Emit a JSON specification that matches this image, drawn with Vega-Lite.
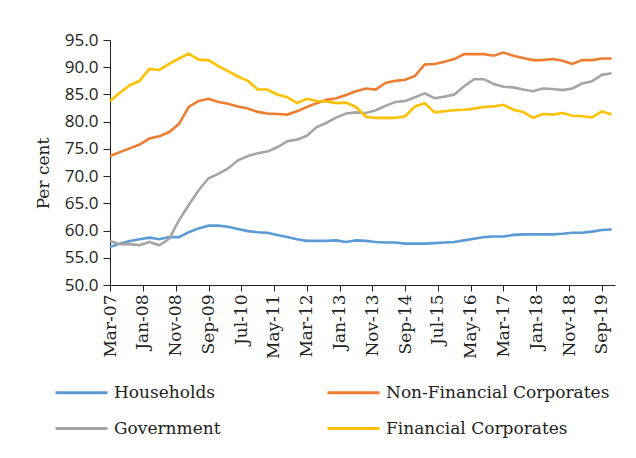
{
  "$schema": "https://vega.github.io/schema/vega-lite/v6.json",
  "width": 505,
  "height": 245,
  "autosize": {"type": "none"},
  "padding": {"left": 110, "top": 40, "right": 21, "bottom": 173},
  "background": "white",
  "config": {
    "view": {"stroke": null},
    "axis": {"grid": false, "domainColor": "#222", "tickColor": "#222", "labelColor": "#222", "titleColor": "#222", "domainWidth": 1, "tickWidth": 1}
  },
  "datasets": {
    "rows": [
      {"d":"2007-03-01","s":"Households","v":57.0},{"d":"2007-06-01","s":"Households","v":57.6},{"d":"2007-09-01","s":"Households","v":58.1},{"d":"2007-12-01","s":"Households","v":58.4},
      {"d":"2008-03-01","s":"Households","v":58.7},{"d":"2008-06-01","s":"Households","v":58.4},{"d":"2008-09-01","s":"Households","v":58.8},{"d":"2008-12-01","s":"Households","v":58.8},
      {"d":"2009-03-01","s":"Households","v":59.7},{"d":"2009-06-01","s":"Households","v":60.4},{"d":"2009-09-01","s":"Households","v":60.9},{"d":"2009-12-01","s":"Households","v":60.9},
      {"d":"2010-03-01","s":"Households","v":60.7},{"d":"2010-06-01","s":"Households","v":60.3},{"d":"2010-09-01","s":"Households","v":59.9},{"d":"2010-12-01","s":"Households","v":59.7},
      {"d":"2011-03-01","s":"Households","v":59.6},{"d":"2011-06-01","s":"Households","v":59.2},{"d":"2011-09-01","s":"Households","v":58.8},{"d":"2011-12-01","s":"Households","v":58.4},
      {"d":"2012-03-01","s":"Households","v":58.1},{"d":"2012-06-01","s":"Households","v":58.1},{"d":"2012-09-01","s":"Households","v":58.1},{"d":"2012-12-01","s":"Households","v":58.2},
      {"d":"2013-03-01","s":"Households","v":57.9},{"d":"2013-06-01","s":"Households","v":58.2},{"d":"2013-09-01","s":"Households","v":58.1},{"d":"2013-12-01","s":"Households","v":57.9},
      {"d":"2014-03-01","s":"Households","v":57.8},{"d":"2014-06-01","s":"Households","v":57.8},{"d":"2014-09-01","s":"Households","v":57.6},{"d":"2014-12-01","s":"Households","v":57.6},
      {"d":"2015-03-01","s":"Households","v":57.6},{"d":"2015-06-01","s":"Households","v":57.7},{"d":"2015-09-01","s":"Households","v":57.8},{"d":"2015-12-01","s":"Households","v":57.9},
      {"d":"2016-03-01","s":"Households","v":58.2},{"d":"2016-06-01","s":"Households","v":58.5},{"d":"2016-09-01","s":"Households","v":58.8},{"d":"2016-12-01","s":"Households","v":58.9},
      {"d":"2017-03-01","s":"Households","v":58.9},{"d":"2017-06-01","s":"Households","v":59.2},{"d":"2017-09-01","s":"Households","v":59.3},{"d":"2017-12-01","s":"Households","v":59.3},
      {"d":"2018-03-01","s":"Households","v":59.3},{"d":"2018-06-01","s":"Households","v":59.3},{"d":"2018-09-01","s":"Households","v":59.4},{"d":"2018-12-01","s":"Households","v":59.6},
      {"d":"2019-03-01","s":"Households","v":59.6},{"d":"2019-06-01","s":"Households","v":59.8},{"d":"2019-09-01","s":"Households","v":60.1},{"d":"2019-12-01","s":"Households","v":60.2},

      {"d":"2007-03-01","s":"Non-Financial Corporates","v":73.7},{"d":"2007-06-01","s":"Non-Financial Corporates","v":74.4},{"d":"2007-09-01","s":"Non-Financial Corporates","v":75.1},{"d":"2007-12-01","s":"Non-Financial Corporates","v":75.8},
      {"d":"2008-03-01","s":"Non-Financial Corporates","v":76.9},{"d":"2008-06-01","s":"Non-Financial Corporates","v":77.3},{"d":"2008-09-01","s":"Non-Financial Corporates","v":78.1},{"d":"2008-12-01","s":"Non-Financial Corporates","v":79.6},
      {"d":"2009-03-01","s":"Non-Financial Corporates","v":82.7},{"d":"2009-06-01","s":"Non-Financial Corporates","v":83.8},{"d":"2009-09-01","s":"Non-Financial Corporates","v":84.2},{"d":"2009-12-01","s":"Non-Financial Corporates","v":83.6},
      {"d":"2010-03-01","s":"Non-Financial Corporates","v":83.3},{"d":"2010-06-01","s":"Non-Financial Corporates","v":82.8},{"d":"2010-09-01","s":"Non-Financial Corporates","v":82.4},{"d":"2010-12-01","s":"Non-Financial Corporates","v":81.8},
      {"d":"2011-03-01","s":"Non-Financial Corporates","v":81.5},{"d":"2011-06-01","s":"Non-Financial Corporates","v":81.4},{"d":"2011-09-01","s":"Non-Financial Corporates","v":81.3},{"d":"2011-12-01","s":"Non-Financial Corporates","v":81.9},
      {"d":"2012-03-01","s":"Non-Financial Corporates","v":82.7},{"d":"2012-06-01","s":"Non-Financial Corporates","v":83.4},{"d":"2012-09-01","s":"Non-Financial Corporates","v":84.0},{"d":"2012-12-01","s":"Non-Financial Corporates","v":84.3},
      {"d":"2013-03-01","s":"Non-Financial Corporates","v":84.9},{"d":"2013-06-01","s":"Non-Financial Corporates","v":85.6},{"d":"2013-09-01","s":"Non-Financial Corporates","v":86.1},{"d":"2013-12-01","s":"Non-Financial Corporates","v":85.9},
      {"d":"2014-03-01","s":"Non-Financial Corporates","v":87.1},{"d":"2014-06-01","s":"Non-Financial Corporates","v":87.5},{"d":"2014-09-01","s":"Non-Financial Corporates","v":87.7},{"d":"2014-12-01","s":"Non-Financial Corporates","v":88.4},
      {"d":"2015-03-01","s":"Non-Financial Corporates","v":90.5},{"d":"2015-06-01","s":"Non-Financial Corporates","v":90.6},{"d":"2015-09-01","s":"Non-Financial Corporates","v":91.0},{"d":"2015-12-01","s":"Non-Financial Corporates","v":91.5},
      {"d":"2016-03-01","s":"Non-Financial Corporates","v":92.4},{"d":"2016-06-01","s":"Non-Financial Corporates","v":92.4},{"d":"2016-09-01","s":"Non-Financial Corporates","v":92.4},{"d":"2016-12-01","s":"Non-Financial Corporates","v":92.1},
      {"d":"2017-03-01","s":"Non-Financial Corporates","v":92.7},{"d":"2017-06-01","s":"Non-Financial Corporates","v":92.1},{"d":"2017-09-01","s":"Non-Financial Corporates","v":91.7},{"d":"2017-12-01","s":"Non-Financial Corporates","v":91.3},
      {"d":"2018-03-01","s":"Non-Financial Corporates","v":91.3},{"d":"2018-06-01","s":"Non-Financial Corporates","v":91.5},{"d":"2018-09-01","s":"Non-Financial Corporates","v":91.2},{"d":"2018-12-01","s":"Non-Financial Corporates","v":90.6},
      {"d":"2019-03-01","s":"Non-Financial Corporates","v":91.3},{"d":"2019-06-01","s":"Non-Financial Corporates","v":91.3},{"d":"2019-09-01","s":"Non-Financial Corporates","v":91.6},{"d":"2019-12-01","s":"Non-Financial Corporates","v":91.6},

      {"d":"2007-03-01","s":"Government","v":58.1},{"d":"2007-06-01","s":"Government","v":57.5},{"d":"2007-09-01","s":"Government","v":57.5},{"d":"2007-12-01","s":"Government","v":57.3},
      {"d":"2008-03-01","s":"Government","v":57.9},{"d":"2008-06-01","s":"Government","v":57.3},{"d":"2008-09-01","s":"Government","v":58.5},{"d":"2008-12-01","s":"Government","v":61.9},
      {"d":"2009-03-01","s":"Government","v":64.7},{"d":"2009-06-01","s":"Government","v":67.4},{"d":"2009-09-01","s":"Government","v":69.6},{"d":"2009-12-01","s":"Government","v":70.4},
      {"d":"2010-03-01","s":"Government","v":71.4},{"d":"2010-06-01","s":"Government","v":72.9},{"d":"2010-09-01","s":"Government","v":73.7},{"d":"2010-12-01","s":"Government","v":74.2},
      {"d":"2011-03-01","s":"Government","v":74.5},{"d":"2011-06-01","s":"Government","v":75.3},{"d":"2011-09-01","s":"Government","v":76.4},{"d":"2011-12-01","s":"Government","v":76.7},
      {"d":"2012-03-01","s":"Government","v":77.4},{"d":"2012-06-01","s":"Government","v":79.0},{"d":"2012-09-01","s":"Government","v":79.8},{"d":"2012-12-01","s":"Government","v":80.8},
      {"d":"2013-03-01","s":"Government","v":81.5},{"d":"2013-06-01","s":"Government","v":81.7},{"d":"2013-09-01","s":"Government","v":81.6},{"d":"2013-12-01","s":"Government","v":82.1},
      {"d":"2014-03-01","s":"Government","v":82.9},{"d":"2014-06-01","s":"Government","v":83.6},{"d":"2014-09-01","s":"Government","v":83.8},{"d":"2014-12-01","s":"Government","v":84.5},
      {"d":"2015-03-01","s":"Government","v":85.2},{"d":"2015-06-01","s":"Government","v":84.3},{"d":"2015-09-01","s":"Government","v":84.6},{"d":"2015-12-01","s":"Government","v":85.0},
      {"d":"2016-03-01","s":"Government","v":86.5},{"d":"2016-06-01","s":"Government","v":87.8},{"d":"2016-09-01","s":"Government","v":87.8},{"d":"2016-12-01","s":"Government","v":86.9},
      {"d":"2017-03-01","s":"Government","v":86.4},{"d":"2017-06-01","s":"Government","v":86.3},{"d":"2017-09-01","s":"Government","v":85.9},{"d":"2017-12-01","s":"Government","v":85.6},
      {"d":"2018-03-01","s":"Government","v":86.1},{"d":"2018-06-01","s":"Government","v":86.0},{"d":"2018-09-01","s":"Government","v":85.8},{"d":"2018-12-01","s":"Government","v":86.1},
      {"d":"2019-03-01","s":"Government","v":87.0},{"d":"2019-06-01","s":"Government","v":87.4},{"d":"2019-09-01","s":"Government","v":88.6},{"d":"2019-12-01","s":"Government","v":88.9},

      {"d":"2007-03-01","s":"Financial Corporates","v":83.8},{"d":"2007-06-01","s":"Financial Corporates","v":85.3},{"d":"2007-09-01","s":"Financial Corporates","v":86.7},{"d":"2007-12-01","s":"Financial Corporates","v":87.5},
      {"d":"2008-03-01","s":"Financial Corporates","v":89.7},{"d":"2008-06-01","s":"Financial Corporates","v":89.5},{"d":"2008-09-01","s":"Financial Corporates","v":90.6},{"d":"2008-12-01","s":"Financial Corporates","v":91.6},
      {"d":"2009-03-01","s":"Financial Corporates","v":92.5},{"d":"2009-06-01","s":"Financial Corporates","v":91.4},{"d":"2009-09-01","s":"Financial Corporates","v":91.3},{"d":"2009-12-01","s":"Financial Corporates","v":90.2},
      {"d":"2010-03-01","s":"Financial Corporates","v":89.3},{"d":"2010-06-01","s":"Financial Corporates","v":88.3},{"d":"2010-09-01","s":"Financial Corporates","v":87.5},{"d":"2010-12-01","s":"Financial Corporates","v":85.9},
      {"d":"2011-03-01","s":"Financial Corporates","v":85.9},{"d":"2011-06-01","s":"Financial Corporates","v":85.0},{"d":"2011-09-01","s":"Financial Corporates","v":84.5},{"d":"2011-12-01","s":"Financial Corporates","v":83.4},
      {"d":"2012-03-01","s":"Financial Corporates","v":84.2},{"d":"2012-06-01","s":"Financial Corporates","v":83.8},{"d":"2012-09-01","s":"Financial Corporates","v":83.7},{"d":"2012-12-01","s":"Financial Corporates","v":83.4},
      {"d":"2013-03-01","s":"Financial Corporates","v":83.5},{"d":"2013-06-01","s":"Financial Corporates","v":82.7},{"d":"2013-09-01","s":"Financial Corporates","v":80.9},{"d":"2013-12-01","s":"Financial Corporates","v":80.7},
      {"d":"2014-03-01","s":"Financial Corporates","v":80.7},{"d":"2014-06-01","s":"Financial Corporates","v":80.7},{"d":"2014-09-01","s":"Financial Corporates","v":81.0},{"d":"2014-12-01","s":"Financial Corporates","v":82.8},
      {"d":"2015-03-01","s":"Financial Corporates","v":83.4},{"d":"2015-06-01","s":"Financial Corporates","v":81.7},{"d":"2015-09-01","s":"Financial Corporates","v":81.9},{"d":"2015-12-01","s":"Financial Corporates","v":82.1},
      {"d":"2016-03-01","s":"Financial Corporates","v":82.2},{"d":"2016-06-01","s":"Financial Corporates","v":82.4},{"d":"2016-09-01","s":"Financial Corporates","v":82.7},{"d":"2016-12-01","s":"Financial Corporates","v":82.8},
      {"d":"2017-03-01","s":"Financial Corporates","v":83.1},{"d":"2017-06-01","s":"Financial Corporates","v":82.2},{"d":"2017-09-01","s":"Financial Corporates","v":81.8},{"d":"2017-12-01","s":"Financial Corporates","v":80.7},
      {"d":"2018-03-01","s":"Financial Corporates","v":81.4},{"d":"2018-06-01","s":"Financial Corporates","v":81.3},{"d":"2018-09-01","s":"Financial Corporates","v":81.6},{"d":"2018-12-01","s":"Financial Corporates","v":81.1},
      {"d":"2019-03-01","s":"Financial Corporates","v":81.0},{"d":"2019-06-01","s":"Financial Corporates","v":80.8},{"d":"2019-09-01","s":"Financial Corporates","v":81.9},{"d":"2019-12-01","s":"Financial Corporates","v":81.3}
    ]
  },
  "data": {"name": "rows"},
  "mark": {"type": "line", "strokeWidth": 2.6, "interpolate": "linear"},
  "encoding": {
    "x": {
      "field": "d",
      "type": "temporal",
      "scale": {"type": "utc", "domain": [{"year": 2007, "month": 3, "date": 1, "utc": true}, {"year": 2020, "month": 1, "date": 1, "utc": true}]},
      "axis": {
        "title": null,
        "format": "%b-%y",
        "values": [
          {"year": 2007, "month": 3, "date": 1, "utc": true},
          {"year": 2008, "month": 1, "date": 1, "utc": true},
          {"year": 2008, "month": 11, "date": 1, "utc": true},
          {"year": 2009, "month": 9, "date": 1, "utc": true},
          {"year": 2010, "month": 7, "date": 1, "utc": true},
          {"year": 2011, "month": 5, "date": 1, "utc": true},
          {"year": 2012, "month": 3, "date": 1, "utc": true},
          {"year": 2013, "month": 1, "date": 1, "utc": true},
          {"year": 2013, "month": 11, "date": 1, "utc": true},
          {"year": 2014, "month": 9, "date": 1, "utc": true},
          {"year": 2015, "month": 7, "date": 1, "utc": true},
          {"year": 2016, "month": 5, "date": 1, "utc": true},
          {"year": 2017, "month": 3, "date": 1, "utc": true},
          {"year": 2018, "month": 1, "date": 1, "utc": true},
          {"year": 2018, "month": 11, "date": 1, "utc": true},
          {"year": 2019, "month": 9, "date": 1, "utc": true}
        ],
        "labelAngle": 270,
        "labelFont": "DejaVu Serif",
        "labelFontSize": 17,
        "labelPadding": 3,
        "tickSize": 6,
        "labelOverlap": false,
        "labelFlush": false,
        "labelBound": false
      }
    },
    "y": {
      "field": "v",
      "type": "quantitative",
      "scale": {"domain": [50, 95], "nice": false, "zero": false},
      "axis": {
        "title": "Per cent",
        "titleFont": "DejaVu Serif",
        "titleFontSize": 17,
        "titleFontWeight": "normal",
        "titlePadding": 12,
        "titleY": 133,
        "values": [50, 55, 60, 65, 70, 75, 80, 85, 90, 95],
        "format": ".1f",
        "labelFont": "Open Sans",
        "labelFontSize": 17,
        "labelPadding": 5,
        "tickSize": 7,
        "labelFlush": false,
        "labelOverlap": false
      }
    },
    "color": {
      "field": "s",
      "type": "nominal",
      "scale": {
        "domain": ["Households", "Non-Financial Corporates", "Government", "Financial Corporates"],
        "range": ["#5B9BD5", "#ED7D31", "#A5A5A5", "#FFC000"]
      },
      "legend": {
        "title": null,
        "orient": "none",
        "legendX": -56,
        "legendY": 325,
        "direction": "horizontal",
        "columns": 2,
        "columnPadding": 100,
        "rowPadding": -16,
        "symbolType": "stroke",
        "symbolSize": 2704,
        "symbolStrokeWidth": 3,
        "labelFont": "DejaVu Serif",
        "labelFontSize": 17,
        "labelColor": "#222",
        "labelOffset": 5,
        "labelLimit": 300
      }
    }
  }
}
